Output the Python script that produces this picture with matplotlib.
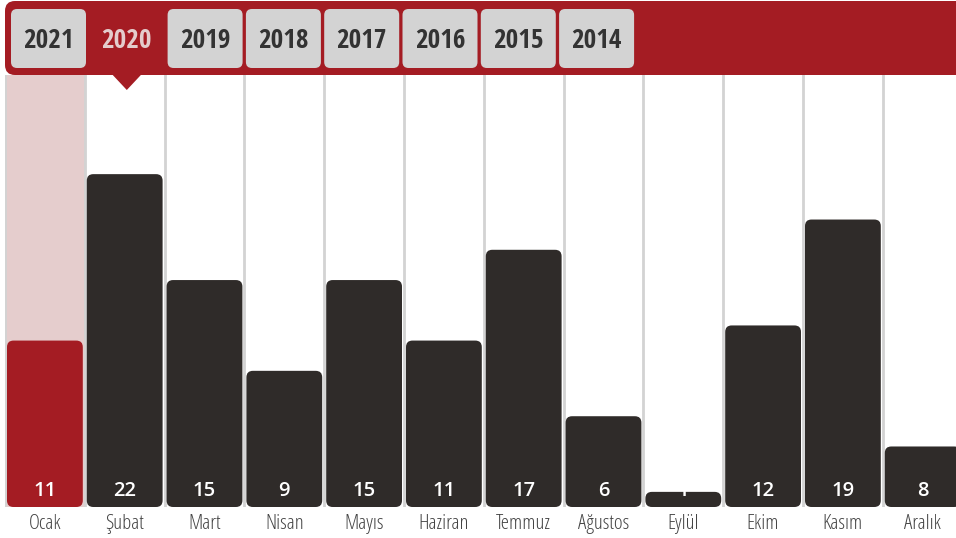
import matplotlib.pyplot as plt
import numpy as np
from matplotlib.patches import FancyBboxPatch, Polygon

plt.rcParams['font.family'] = ['Open Sans', 'DejaVu Sans']

months = ['Ocak', 'Şubat', 'Mart', 'Nisan', 'Mayıs', 'Haziran', 'Temmuz',
          'Ağustos', 'Eylül', 'Ekim', 'Kasım', 'Aralık']
values = [11, 22, 15, 9, 15, 11, 17, 6, 1, 12, 19, 8]
# the Aralık bar is drawn shorter than its label in the source (mid animation)
heights = [11, 22, 15, 9, 15, 11, 17, 6, 1, 12, 19, 4]
years = ['2021', '2020', '2019', '2018', '2017', '2016', '2015', '2014']
selected_year = '2020'
highlight_month = 0

red = '#a41c23'
dark = '#2f2b29'
tab_gray = '#d3d3d3'
grid_gray = '#d3d3d3'
pink = '#e5cdcd'

W, H = 956, 538
col_w = 79.8
px_per_unit = 15.13
fig = plt.figure(figsize=(W / 100, H / 100), dpi=100)

# bar area, in pixels: left 5, bottom 31 from bottom, top 75 from top
ax_h = H - 75 - 31
ax = fig.add_axes([5 / W, 31 / H, (W - 5) / W, ax_h / H])
ax.set_xlim(-0.5, -0.5 + (W - 5) / col_w)
ax.set_ylim(0, ax_h / px_per_unit)
ax.axis('off')

ax.axvspan(highlight_month - 0.5, highlight_month + 0.5, color=pink, lw=0, zorder=0)
for b in np.arange(-0.5, 12, 1):
    ax.axvline(b, color=grid_gray, lw=2, zorder=1)

bw = 0.95
r = 6.5 / col_w
asp = col_w / px_per_unit
for i, (h, v) in enumerate(zip(heights, values)):
    c = red if i == highlight_month else dark
    ax.add_patch(FancyBboxPatch((i - bw / 2, 0), bw, h,
                                boxstyle='round,pad=0,rounding_size=%f' % r,
                                mutation_aspect=asp, fc=c, ec='none', zorder=2))
    ax.text(i, 16.5 / px_per_unit, str(v), color='white', ha='center', va='center',
            fontsize=14.5, fontweight='semibold', zorder=3)
    ax.text(i, -17 / px_per_unit, months[i], color='#444444', ha='center', va='center',
            fontsize=15, fontweight='light', fontstretch='condensed', clip_on=False)

# year banner on top, in pixel coords
top = fig.add_axes([0, 0, 1, 1], zorder=5)
top.set_xlim(0, W)
top.set_ylim(H, 0)
top.axis('off')
top.add_patch(FancyBboxPatch((5, 1), W + 20, 74, boxstyle='round,pad=0,rounding_size=10',
                             fc=red, ec='none'))
sel = years.index(selected_year)
tab_step = 78.3
for i, y in enumerate(years):
    x0 = 11 + i * tab_step
    cx = x0 + 37.5
    if y == selected_year:
        tc = '#e4cccc'
    else:
        tc = '#333333'
        top.add_patch(FancyBboxPatch((x0, 9), 75, 59, boxstyle='round,pad=0,rounding_size=6',
                                     fc=tab_gray, ec='none'))
    top.text(cx, 41, y, color=tc, ha='center', va='center',
             fontsize=19.5, family='Open Sans Condensed', fontweight='bold')
px = 11 + sel * tab_step + 37.5
top.add_patch(Polygon([[px - 15, 74], [px + 15, 74], [px, 90]], closed=True, fc=red, ec='none'))

fig.savefig('out.png', dpi=100)
